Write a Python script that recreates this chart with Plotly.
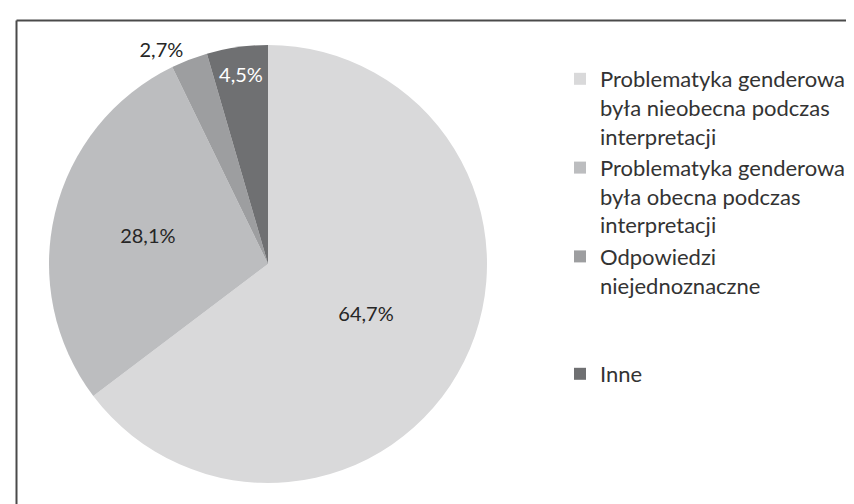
import plotly.graph_objects as go

labels = [
    "Problematyka genderowa<br>była nieobecna podczas<br>interpretacji",
    "Problematyka genderowa<br>była obecna podczas<br>interpretacji",
    "Odpowiedzi<br>niejednoznaczne<br> <br> ",
    "Inne",
]
values = [64.7, 28.1, 2.7, 4.5]
text_labels = ["64,7%", "28,1%", "2,7%", "4,5%"]
colors = ["#d9d9da", "#bcbdbf", "#9d9ea0", "#6f7072"]
text_pos = ["inside", "inside", "outside", "inside"]
text_colors = ["#262626", "#262626", "#262626", "#ffffff"]

W, H = 854, 504
FONT = "Lato"

fig = go.Figure(go.Pie(
    labels=labels,
    values=values,
    text=text_labels,
    textinfo="text",
    textposition=text_pos,
    insidetextorientation="horizontal",
    marker=dict(colors=colors, line=dict(width=0)),
    textfont=dict(family=FONT, size=20, color=text_colors),
    outsidetextfont=dict(family=FONT, size=20, color="#262626"),
    sort=False,
    direction="clockwise",
    rotation=0,
    domain=dict(x=[41 / W, 479 / W], y=[(H - 475) / H, (H - 37) / H]),
    showlegend=True,
    hoverinfo="skip",
))

fig.update_layout(
    width=W,
    height=H,
    margin=dict(l=0, r=0, t=0, b=0),
    paper_bgcolor="white",
    plot_bgcolor="white",
    font=dict(family=FONT, size=22, color="#333333"),
    legend=dict(
        x=552 / W,
        y=1 - 50 / H,
        xanchor="left",
        yanchor="top",
        valign="top",
        font=dict(family=FONT, size=22, color="#333333"),
        traceorder="normal",
        itemwidth=30,
        bgcolor="rgba(0,0,0,0)",
    ),
    shapes=[
        dict(type="line", xref="paper", yref="paper",
             x0=8.5 / W, x1=8.5 / W, y0=0, y1=1 - 12.5 / H,
             line=dict(color="#4a4a4a", width=2)),
        dict(type="line", xref="paper", yref="paper",
             x0=8.5 / W, x1=1, y0=1 - 12.5 / H, y1=1 - 12.5 / H,
             line=dict(color="#4a4a4a", width=2)),
    ],
)

fig.write_html("out.html")
